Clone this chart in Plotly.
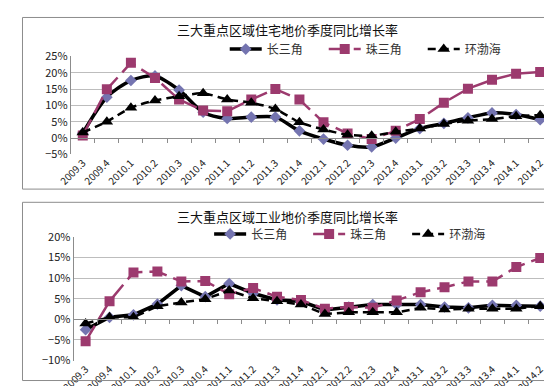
import plotly.graph_objects as go

categories = ["2009.3", "2009.4", "2010.1", "2010.2", "2010.3", "2010.4",
              "2011.1", "2011.2", "2011.3", "2011.4", "2012.1", "2012.2",
              "2012.3", "2012.4", "2013.1", "2013.2", "2013.3", "2013.4",
              "2014.1", "2014.2"]

# Residential land price YoY growth (%)
res_csj = [1.5, 12.5, 17.6, 19.0, 14.7, 7.9, 6.0, 6.4, 6.4, 2.2, -0.3, -2.2,
           -2.7, 0.0, 2.9, 4.5, 6.2, 7.7, 7.2, 5.6]
res_zsj = [0.8, 14.9, 23.0, 18.4, 11.8, 8.4, 8.2, 11.8, 15.0, 11.8, 4.8, 1.4,
           -0.3, 2.2, 5.8, 10.8, 15.1, 17.8, 19.7, 20.2]
res_hbh = [1.7, 5.0, 9.3, 11.5, 12.8, 13.7, 11.8, 10.8, 8.9, 4.8, 2.6, 1.0,
           0.7, 1.9, 2.9, 4.3, 5.3, 5.8, 6.7, 7.0]

# Industrial land price YoY growth (%)
ind_csj = [-2.5, 0.5, 1.1, 3.7, 8.2, 5.5, 8.7, 6.3, 4.7, 4.4, 2.3, 3.0,
           3.6, 3.6, 3.6, 3.0, 2.8, 3.4, 3.4, 3.2]
ind_zsj = [-5.3, 4.4, 11.4, 11.6, 9.2, 9.3, 6.1, 7.6, 5.5, 4.7, 2.6, 3.0,
           2.8, 4.6, 6.6, 7.8, 9.2, 9.2, 12.7, 14.9]
ind_hbh = [-1.0, 0.5, 0.5, 3.2, 4.1, 4.9, 7.0, 5.1, 4.4, 3.6, 1.3, 1.7,
           1.7, 1.7, 2.8, 2.4, 2.6, 2.6, 2.6, 3.2]

names = ["长三角", "珠三角", "环渤海"]
title_top = "三大重点区域住宅地价季度同比增长率"
title_bot = "三大重点区域工业地价季度同比增长率"

W, H = 552, 386
FONT = "Noto Sans CJK SC"
C_DIAMOND = "#7474b0"
C_PURPLE = "#9c3a6e"

def py(px):
    return 1 - px / H

def pxx(px):
    return px / W

idx = list(range(len(categories)))

fig = go.Figure()

def add_series(vals, xa, ya, legend, smooth_top):
    a, b, c = vals
    fig.add_trace(go.Scatter(
        x=idx, y=[v / 100 for v in a], xaxis=xa, yaxis=ya, name=names[0],
        legend=legend, mode="lines+markers",
        line=dict(color="black", width=3.5,
                  shape="spline" if smooth_top else "linear", smoothing=0.8),
        marker=dict(symbol="diamond", size=9, color=C_DIAMOND,
                    line=dict(width=0))))
    fig.add_trace(go.Scatter(
        x=idx, y=[v / 100 for v in b], xaxis=xa, yaxis=ya, name=names[1],
        legend=legend, mode="lines+markers",
        line=dict(color=C_PURPLE, width=2.5, dash="18px,7px"),
        marker=dict(symbol="square", size=10, color=C_PURPLE,
                    line=dict(width=0))))
    fig.add_trace(go.Scatter(
        x=idx, y=[v / 100 for v in c], xaxis=xa, yaxis=ya, name=names[2],
        legend=legend, mode="lines+markers",
        line=dict(color="black", width=2.5, dash="8px,5px",
                  shape="spline" if smooth_top else "linear", smoothing=0.6),
        marker=dict(symbol="triangle-up", size=11, color="black",
                    line=dict(width=0))))

add_series((res_csj, res_zsj, res_hbh), "x", "y", "legend", True)
add_series((ind_csj, ind_zsj, ind_hbh), "x2", "y2", "legend2", False)

top_dom = [py(145.7), py(41.7)]
bot_dom = [py(364.3), py(233.3)]
xdom_top = [pxx(50), pxx(544)]
xdom_bot = [pxx(53), pxx(544)]

tick_font = dict(family=FONT, size=10, color="#222")
grid = "#bdbdbd"

def xaxis_cfg(dom, anchor):
    return dict(domain=dom, anchor=anchor, range=[-0.5, len(categories) - 0.5],
                tickmode="array", tickvals=idx, ticktext=categories,
                tickangle=-45, tickfont=tick_font, showgrid=False,
                showline=False, ticks="", zeroline=False, fixedrange=True)

def xaxis_zero(dom, overlay, pos):
    return dict(domain=dom, overlaying=overlay, anchor="free", position=pos,
                range=[-0.5, len(categories) - 0.5], tickmode="array",
                tickvals=[i - 0.5 for i in range(len(categories) + 1)],
                showticklabels=False, ticks="outside", ticklen=4,
                tickcolor="#8c8c8c", showline=True, linecolor="#8c8c8c",
                linewidth=1, showgrid=False, zeroline=False)

yt = dict(tickformat=".0%", tickfont=dict(family=FONT, size=11, color="#222"),
          showgrid=True, gridcolor=grid, gridwidth=1, showline=True,
          linecolor="#8c8c8c", ticks="", zeroline=False, fixedrange=True)

leg_common = dict(orientation="h", yanchor="middle", xanchor="left",
                  font=dict(family=FONT, size=12, color="#333"),
                  bgcolor="rgba(0,0,0,0)", itemwidth=32, tracegroupgap=0,
                  entrywidth=52, entrywidthmode="pixels")

fig.update_layout(
    width=W, height=H,
    margin=dict(l=0, r=0, t=0, b=0),
    paper_bgcolor="white", plot_bgcolor="white",
    font=dict(family=FONT, color="#222"),
    xaxis=xaxis_cfg(xdom_top, "y"),
    xaxis2=xaxis_cfg(xdom_bot, "y2"),
    xaxis3=xaxis_zero(xdom_top, "x", top_dom[0] + (top_dom[1] - top_dom[0]) * 5 / 30),
    xaxis4=xaxis_zero(xdom_bot, "x2", bot_dom[0] + (bot_dom[1] - bot_dom[0]) * 10 / 30),
    yaxis=dict(domain=top_dom, anchor="x", range=[-0.05, 0.25],
               tickvals=[-0.05, 0, 0.05, 0.10, 0.15, 0.20, 0.25], **yt),
    yaxis2=dict(domain=bot_dom, anchor="x2", range=[-0.10, 0.20],
                tickvals=[-0.10, -0.05, 0, 0.05, 0.10, 0.15, 0.20], **yt),
    legend=dict(x=pxx(208), y=py(34), **leg_common),
    legend2=dict(x=pxx(192), y=py(230), **leg_common),
    annotations=[
        dict(text=title_top, x=pxx(272), y=py(13), xref="paper", yref="paper",
             showarrow=False, font=dict(family=FONT, size=13, color="#111"),
             xanchor="center", yanchor="middle"),
        dict(text=title_bot, x=pxx(272), y=py(212), xref="paper", yref="paper",
             showarrow=False, font=dict(family=FONT, size=13, color="#111"),
             xanchor="center", yanchor="middle"),
    ],
    shapes=[
        dict(type="rect", xref="paper", yref="paper", x0=pxx(0.5), x1=pxx(550.5),
             y0=py(182.5), y1=py(0.5), line=dict(color="#8c8c8c", width=1)),
        dict(type="rect", xref="paper", yref="paper", x0=pxx(0.5), x1=pxx(550.5),
             y0=py(385.5), y1=py(196.5), line=dict(color="#8c8c8c", width=1)),
    ],
    showlegend=True,
)

# Dummy traces so the overlay zero-line axes render
for xa, ya in (("x3", "y"), ("x4", "y2")):
    fig.add_trace(go.Scatter(x=[None], y=[None], xaxis=xa, yaxis=ya,
                             showlegend=False, hoverinfo="skip"))

fig.write_html("out.html")
